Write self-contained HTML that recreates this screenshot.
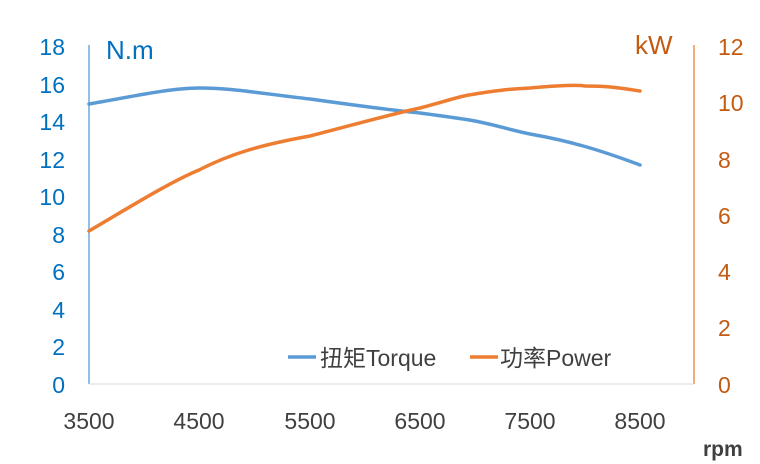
<!DOCTYPE html>
<html><head><meta charset="utf-8"><style>
html,body{margin:0;padding:0;background:#fff;}
svg{display:block;font-family:"Liberation Sans","Noto Sans CJK SC",sans-serif;}
</style></head><body>
<svg width="760" height="464" viewBox="0 0 760 464">
<rect width="760" height="464" fill="#fff"/>
<line x1="89" y1="45" x2="89" y2="384" stroke="#5b9bd5" stroke-width="1.3"/>
<line x1="694" y1="45" x2="694" y2="384" stroke="#ed7d31" stroke-width="1.3"/>
<line x1="89" y1="384" x2="694" y2="384" stroke="#d9d9d9" stroke-width="1"/>
<g fill="#0070c0" font-size="23" text-anchor="end">
<text x="65" y="55">18</text><text x="65" y="93">16</text><text x="65" y="130">14</text>
<text x="65" y="168">12</text><text x="65" y="205">10</text><text x="65" y="243">8</text>
<text x="65" y="280">6</text><text x="65" y="318">4</text><text x="65" y="355">2</text>
<text x="65" y="393">0</text>
</g>
<g fill="#c55a11" font-size="23" text-anchor="start">
<text x="718" y="55">12</text><text x="718" y="111">10</text><text x="718" y="168">8</text>
<text x="718" y="224">6</text><text x="718" y="280">4</text><text x="718" y="336">2</text>
<text x="718" y="393">0</text>
</g>
<g fill="#404040" font-size="23" text-anchor="middle">
<text x="89" y="429">3500</text><text x="199" y="429">4500</text><text x="310" y="429">5500</text>
<text x="420" y="429">6500</text><text x="530" y="429">7500</text><text x="640" y="429">8500</text>
</g>
<text x="106" y="59" font-size="26" fill="#0070c0">N.m</text>
<text x="635" y="54" font-size="26" fill="#c55a11">kW</text>
<text x="703" y="456" font-size="21" fill="#404040" font-weight="bold">rpm</text>
<path d="M89,104 C130,97 170,88 199,88 C230,88 250,92 310,99 C360,106 400,111 420,113 C450,117 470,120 475,121 C500,126 510,130 530,134 C570,141 600,150 640,165" fill="none" stroke="#5b9bd5" stroke-width="3.5" stroke-linecap="round"/>
<path d="M89,231 C130,207 170,182 199,170 C230,154 260,145 310,136 C360,123 400,112 420,108 C450,100 460,96 475,94 C500,90 510,89 530,88 C560,85 580,85 585,86 C610,86 620,88 640,91" fill="none" stroke="#ed7d31" stroke-width="3.5" stroke-linecap="round"/>
<line x1="288" y1="357" x2="316" y2="357" stroke="#5b9bd5" stroke-width="3.5"/>
<text x="320" y="366" font-size="23" fill="#404040">扭矩Torque</text>
<line x1="470" y1="357" x2="498" y2="357" stroke="#ed7d31" stroke-width="3.5"/>
<text x="500" y="366" font-size="23" fill="#404040">功率Power</text>
</svg>
</body></html>
